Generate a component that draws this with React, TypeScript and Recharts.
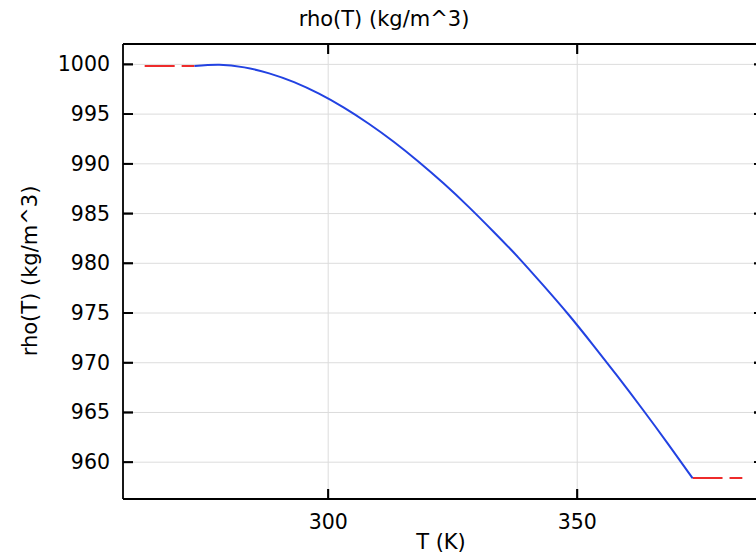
import { ComposedChart, Line, CartesianGrid, XAxis, YAxis } from "recharts";

// Temperature (K) and density (kg/m^3)
const tempK = [
  273.15, 278.15, 283.15, 288.15, 293.15, 298.15, 303.15, 308.15, 313.15,
  318.15, 323.15, 328.15, 333.15, 338.15, 343.15, 348.15, 353.15, 358.15,
  363.15, 368.15, 373.15,
];
const rho = [
  999.84, 999.97, 999.7, 999.1, 998.21, 997.05, 995.65, 994.03, 992.22,
  990.21, 988.04, 985.7, 983.2, 980.6, 977.8, 974.9, 971.8, 968.6, 965.3,
  961.9, 958.4,
];
// constant extrapolation outside the defined range (red dashed)
const lowT = [263.15, 273.15];
const lowRho = [999.84, 999.84];
const highT = [373.15, 383.15];
const highRho = [958.4, 958.4];

const xTicks = [300, 350];
const yTicks = [960, 965, 970, 975, 980, 985, 990, 995, 1000];

const X_DOMAIN: [number, number] = [258.8, 387.5];
const Y_DOMAIN: [number, number] = [956.3, 1002.05];

const FONT = "'DejaVu Sans', sans-serif";
const TICK = 10;
const TICK_SIZE = -TICK; // negative = ticks point into the plot
const FRAME = { stroke: "#000", strokeWidth: 1.8 };

const toRows = (xs: number[], ys: number[]) =>
  xs.map((T, i) => ({ T, rho: ys[i] }));

const mainRows = toRows(tempK, rho);
const lowRows = toRows(lowT, lowRho);
const highRows = toRows(highT, highRho);

// x, y arrive at the inner end of the tick, so the axis sits TICK away.
function LeftTick({ x, y, payload }: any) {
  return (
    <g>
      <line x1={x} x2={x - TICK} y1={y} y2={y} {...FRAME} />
      <text
        x={x - TICK - 13}
        y={y}
        textAnchor="end"
        dominantBaseline="central"
        fontSize={20.5}
        fontFamily={FONT}
        fill="#000"
      >
        {payload.value}
      </text>
    </g>
  );
}

function BottomTick({ x, y, payload }: any) {
  return (
    <g>
      <line x1={x} x2={x} y1={y} y2={y + TICK} {...FRAME} />
      <text
        x={x}
        y={y + TICK + 23}
        textAnchor="middle"
        dominantBaseline="central"
        fontSize={20.5}
        fontFamily={FONT}
        fill="#000"
      >
        {payload.value}
      </text>
    </g>
  );
}

function TopTick({ x, y }: any) {
  return <line x1={x} x2={x} y1={y} y2={y - TICK} {...FRAME} />;
}

function RightTick({ x, y }: any) {
  return <line x1={x} x2={x + TICK} y1={y} y2={y} {...FRAME} />;
}

export default function App() {
  return (
    <div
      style={{
        position: "absolute",
        left: 0,
        top: 0,
        width: 756,
        height: 558,
        overflow: "hidden",
        background: "#fff",
      }}
    >
      <ComposedChart
        width={780}
        height={558}
        margin={{ top: 43, right: 15, bottom: 0, left: 0 }}
      >
        <CartesianGrid stroke="#dcdcdc" strokeWidth={1} fill="none" />
        <XAxis
          dataKey="T"
          type="number"
          domain={X_DOMAIN}
          ticks={xTicks}
          allowDataOverflow
          height={59}
          tickSize={TICK_SIZE}
          tickMargin={0}
          axisLine={FRAME}
          tickLine={FRAME}
          tick={<BottomTick />}
        />
        <XAxis
          xAxisId="top"
          orientation="top"
          dataKey="T"
          type="number"
          domain={X_DOMAIN}
          ticks={xTicks}
          allowDataOverflow
          height={1}
          tickSize={TICK_SIZE}
          tickMargin={0}
          axisLine={FRAME}
          tickLine={FRAME}
          tick={<TopTick />}
        />
        <YAxis
          type="number"
          domain={Y_DOMAIN}
          ticks={yTicks}
          allowDataOverflow
          width={123}
          tickSize={TICK_SIZE}
          tickMargin={0}
          axisLine={FRAME}
          tickLine={FRAME}
          tick={<LeftTick />}
        />
        <YAxis
          yAxisId="right"
          orientation="right"
          type="number"
          domain={Y_DOMAIN}
          ticks={yTicks}
          allowDataOverflow
          width={1}
          tickSize={TICK_SIZE}
          tickMargin={0}
          axisLine={FRAME}
          tickLine={FRAME}
          tick={<RightTick />}
        />
        <Line
          data={lowRows}
          xAxisId="top"
          dataKey="rho"
          type="linear"
          stroke="#ee2b2b"
          strokeWidth={2}
          strokeDasharray="30 7"
          dot={false}
          isAnimationActive={false}
        />
        <Line
          data={highRows}
          yAxisId="right"
          dataKey="rho"
          type="linear"
          stroke="#ee2b2b"
          strokeWidth={2}
          strokeDasharray="30 7"
          dot={false}
          isAnimationActive={false}
        />
        <Line
          data={mainRows}
          dataKey="rho"
          type="natural"
          stroke="#2242e2"
          strokeWidth={2}
          dot={false}
          isAnimationActive={false}
        />
      </ComposedChart>
      <svg
        width={756}
        height={558}
        style={{ position: "absolute", left: 0, top: 0, pointerEvents: "none" }}
      >
        <text
          x={384}
          y={19}
          textAnchor="middle"
          dominantBaseline="central"
          fontSize={21}
          fontFamily={FONT}
          fill="#000"
        >
          rho(T) (kg/m^3)
        </text>
        <text
          x={441}
          y={542}
          textAnchor="middle"
          dominantBaseline="central"
          fontSize={21}
          fontFamily={FONT}
          fill="#000"
        >
          T (K)
        </text>
        <text
          x={30}
          y={271}
          textAnchor="middle"
          dominantBaseline="central"
          fontSize={21}
          fontFamily={FONT}
          fill="#000"
          transform="rotate(-90 30 271)"
        >
          rho(T) (kg/m^3)
        </text>
      </svg>
    </div>
  );
}
